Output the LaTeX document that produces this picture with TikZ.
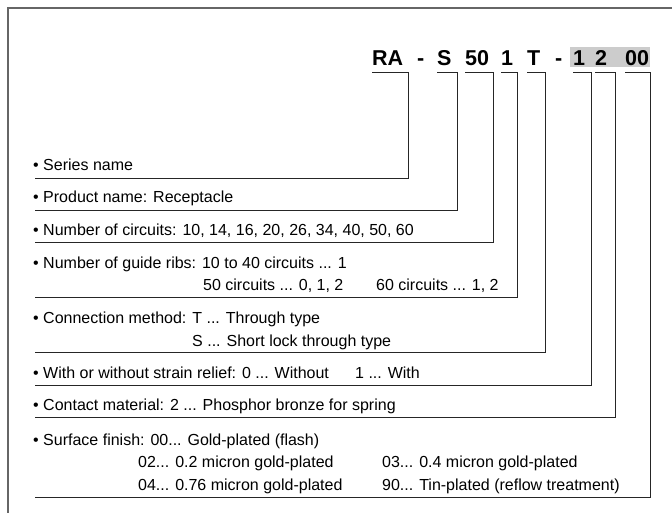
\documentclass[tikz,border=0pt]{standalone}
\usepackage{fontspec}
\setmainfont{Liberation Sans}

\begin{document}
\begin{tikzpicture}[x=1pt, y=-1pt,
  code/.style={anchor=base west, inner sep=0pt, font=\fontsize{21.5}{22}\selectfont\bfseries},
  item/.style={anchor=base west, inner sep=0pt, font=\fontsize{16}{18}\selectfont},
  bracket/.style={draw=black!85, line width=0.8pt},
  frame/.style={draw=black!60, line width=1.6pt}
]
\useasboundingbox (0,0) rectangle (672,513);
\draw [frame] (672,8) -- (8,8) -- (8,513);

% part number
\fill [black!20] (570,47) rectangle (650,67);
\node (kRA) [code] at (372,66) {RA};
\node (kdashA) [code] at (417,66) {-};
\node (kS) [code] at (437,66) {S};
\node (kCirc) [code] at (465,66) {50};
\node (kRib) [code] at (501,66) {1};
\node (kT) [code] at (527,66) {T};
\node (kdashB) [code] at (555,66) {-};
\node (kRelief) [code] at (573,66) {1};
\node (kMat) [code] at (595,66) {2};
\node (kFin) [code] at (625,66) {00};

% items
\node (tSeries) [item] at (33,171) {\textbullet\ Series name};
\node (tProduct) [item] at (33,203) {\textbullet\ Product name: Receptacle};
\node (tCirc) [item] at (33,236) {\textbullet\ Number of circuits: 10, 14, 16, 20, 26, 34, 40, 50, 60};
\node (tRib) [item] at (33,268) {\textbullet\ Number of guide ribs: 10 to 40 circuits ... 1};
\node (tRibB) [item] at (203,290) {50 circuits ... 0, 1, 2};
\node (tRibC) [item] at (376,290) {60 circuits ... 1, 2};
\node (tConn) [item] at (33,323) {\textbullet\ Connection method: T ... Through type};
\node (tConnB) [item] at (192,346) {S ... Short lock through type};
\node (tRelief) [item] at (33,378) {\textbullet\ With or without strain relief: 0 ... Without};
\node (tReliefB) [item] at (355,378) {1 ... With};
\node (tMat) [item] at (33,410) {\textbullet\ Contact material: 2 ... Phosphor bronze for spring};
\node (tFin) [item] at (33,445) {\textbullet\ Surface finish: 00... Gold-plated (flash)};
\node (tFinB) [item] at (138,467) {02... 0.2 micron gold-plated};
\node (tFinC) [item] at (382,467) {03... 0.4 micron gold-plated};
\node (tFinD) [item] at (138,490) {04... 0.76 micron gold-plated};
\node (tFinE) [item] at (382,490) {90... Tin-plated (reflow treatment)};

% rule ends
\coordinate (sSeries) at (35,178);   \coordinate (eSeries) at (408,178);
\coordinate (sProduct) at (35,210);  \coordinate (eProduct) at (457,210);
\coordinate (sCirc) at (35,242);     \coordinate (eCirc) at (493,242);
\coordinate (sRib) at (35,297);      \coordinate (eRib) at (517,297);
\coordinate (sConn) at (35,352);     \coordinate (eConn) at (545,352);
\coordinate (sRelief) at (35,385);   \coordinate (eRelief) at (591,385);
\coordinate (sMat) at (35,417);      \coordinate (eMat) at (615,417);
\coordinate (sFin) at (35,497);      \coordinate (eFin) at (650,497);

% brackets
\draw [bracket] ([yshift=-6pt]kRA.base west) -| (eSeries) -- (sSeries);
\draw [bracket] ([yshift=-6pt]kS.base west) -| (eProduct) -- (sProduct);
\draw [bracket] ([yshift=-6pt]kCirc.base west) -| (eCirc) -- (sCirc);
\draw [bracket] ([yshift=-6pt]kRib.base west) -| (eRib) -- (sRib);
\draw [bracket] ([yshift=-6pt]kT.base west) -| (eConn) -- (sConn);
\draw [bracket] ([yshift=-6pt]kRelief.base west) -| (eRelief) -- (sRelief);
\draw [bracket] ([yshift=-6pt]kMat.base west) -| (eMat) -- (sMat);
\draw [bracket] ([yshift=-6pt]kFin.base west) -| (eFin) -- (sFin);

\end{tikzpicture}
\end{document}
